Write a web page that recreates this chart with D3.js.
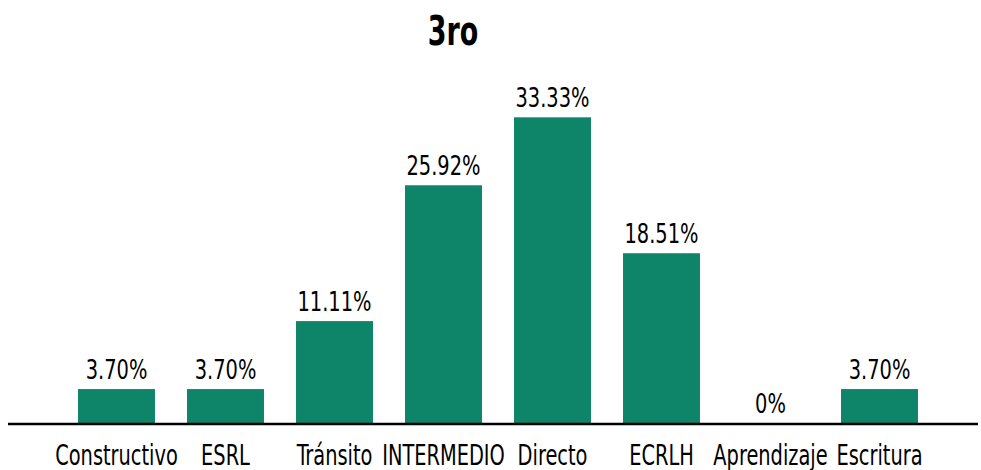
<!DOCTYPE html>
<html>
<head>
<meta charset="utf-8">
<script src="https://cdn.jsdelivr.net/npm/d3@7"></script>
<style>
  body { margin: 0; background: #fff; }
  text { font-family: "DejaVu Sans Condensed", "Liberation Sans Narrow", sans-serif; fill: #000; }
</style>
</head>
<body>
<div class="chart"></div>
<script>
// data
var title = "3ro";
var categories = ["Constructivo", "ESRL", "Tránsito", "INTERMEDIO", "Directo", "ECRLH", "Aprendizaje", "Escritura"];
var values = [3.70, 3.70, 11.11, 25.92, 33.33, 18.51, 0, 3.70];
var valueLabels = ["3.70%", "3.70%", "11.11%", "25.92%", "33.33%", "18.51%", "0%", "3.70%"];

var width = 981, height = 470;

var svg = d3.select(".chart")
            .append("svg")
            .attr("width", width)
            .attr("height", height);

var x = d3.scaleBand()
          .domain(categories)
          .range([62, 934])
          .paddingInner(0.294)
          .paddingOuter(0.147);

var y = d3.scaleLinear()
          .domain([0, 35])
          .range([423, 102]);

//Title (squeezed to look like a condensed face)
svg.append("text")
   .attr("transform", "translate(453,45) scale(0.73,1)")
   .attr("text-anchor", "middle")
   .style("font-size", "41px")
   .style("font-weight", "bold")
   .text(title);

//Bars
svg.selectAll(".bar")
   .data(values)
   .enter()
   .append("rect")
   .attr("class", "bar")
   .attr("x", (d, i) => x(categories[i]))
   .attr("y", d => y(d))
   .attr("width", x.bandwidth())
   .attr("height", d => y(0) - y(d))
   .attr("fill", "#0e8469");

//Value labels
svg.selectAll(".val")
   .data(values)
   .enter()
   .append("text")
   .attr("class", "val")
   .attr("transform", (d, i) => "translate(" + (x(categories[i]) + x.bandwidth() / 2) + "," + (y(d) - 10) + ") scale(0.8,1)")
   .attr("text-anchor", "middle")
   .style("font-size", "27px")
   .text((d, i) => valueLabels[i]);

//X axis
var xAxis = svg.append("g")
   .attr("class", "x-axis")
   .attr("transform", "translate(0,423)")
   .call(d3.axisBottom(x).tickSize(0).tickPadding(0));

xAxis.select(".domain").remove();
xAxis.selectAll("text")
     .attr("y", 42)
     .attr("dy", null)
     .attr("transform", "scale(0.77,1)")
     .style("font-size", "28px");

svg.append("line")
   .attr("x1", 8)
   .attr("x2", 978)
   .attr("y1", 424)
   .attr("y2", 424)
   .attr("stroke", "#000")
   .attr("stroke-width", 2.5);
</script>
</body>
</html>
